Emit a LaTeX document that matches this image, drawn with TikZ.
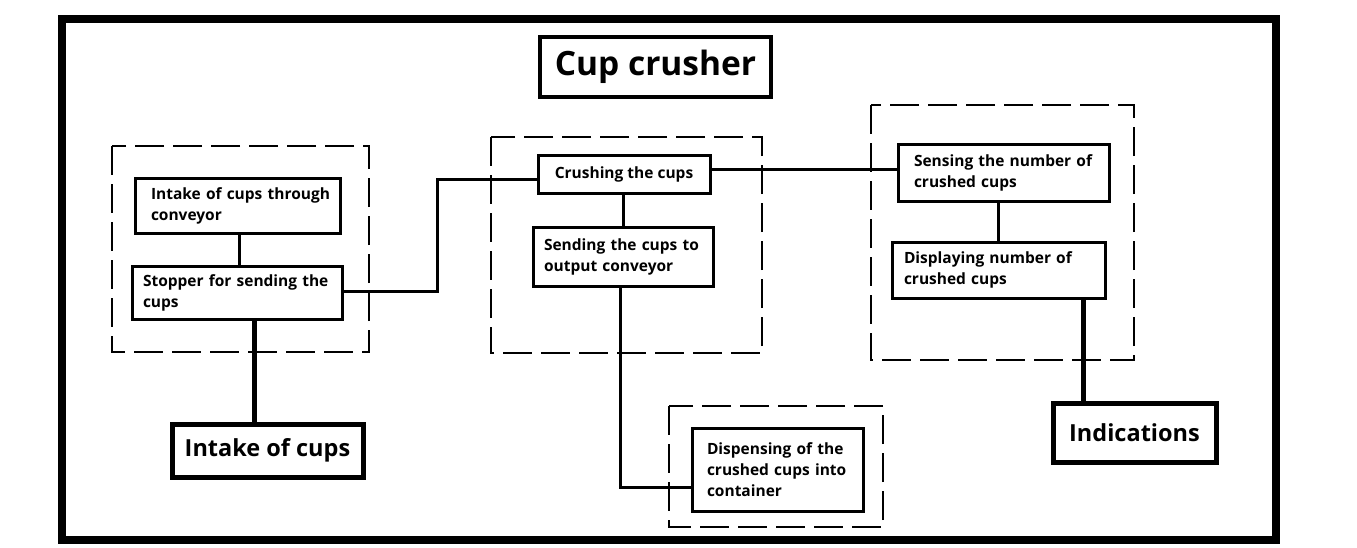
\documentclass[tikz,border=0pt]{standalone}
\usepackage{fontspec}
\setmainfont{Open Sans}
\begin{document}
\begin{tikzpicture}[x=1pt,y=-1pt,
  box/.style={draw, rectangle, line width=3pt, outer sep=0pt, anchor=north west,
    inner ysep=0pt, font=\fontsize{15.5}{21}\selectfont\bfseries},
  lbox/.style={box, align=left},
  bigbox/.style={box, line width=5pt, inner xsep=0pt, font=\fontsize{23.5}{28}\selectfont\bfseries},
  group/.style={draw, line width=1.2pt, dash pattern=on 29pt off 9pt},
  conn/.style={draw, line width=3pt},
  thick conn/.style={draw, line width=5pt}
]
\useasboundingbox (0,0) rectangle (1357,547);
% outer frame
\draw[line width=8pt] (61.5,19) rectangle (1276,540);

% groups
\draw[group] (112,146) rectangle (369,352);
\draw[group] (491,137) rectangle (762,353);
\draw[group] (871,105) rectangle (1134,360);
\draw[group] (669,406) rectangle (883,527);

% title
\node[box, line width=4pt, minimum width=231pt, minimum height=60pt, inner xsep=0pt,
  font=\fontsize{33.5}{38}\selectfont\bfseries] (title) at (540,37) {Cup crusher};

% left group
\node[lbox, inner xsep=16pt, text width=173pt, minimum height=55pt] (iconv) at (135,178)
  {\mbox{Intake of cups through}\\conveyor};
\node[lbox, inner xsep=11pt, text width=188pt, minimum height=53pt] (stop) at (132,266)
  {\mbox{Stopper for sending the}\\cups};
\node[bigbox, minimum width=191pt, minimum height=53pt] (intake) at (172,424) {Intake of cups};

% middle group
\node[box, inner xsep=0pt, minimum width=172pt, minimum height=38pt] (crush) at (538,155) {Crushing the cups};
\node[lbox, inner xsep=11pt, text width=158pt, minimum height=59pt] (send) at (533,227)
  {\mbox{Sending the cups to}\\\mbox{output conveyor}};

% right group
\node[lbox, inner xsep=16pt, text width=179pt, minimum height=57pt] (sense) at (898,144)
  {\mbox{Sensing the number of}\\\mbox{crushed cups}};
\node[lbox, inner xsep=12pt, text width=189pt, minimum height=56pt] (displ) at (892,242)
  {\mbox{Displaying number of}\\\mbox{crushed cups}};
\node[bigbox, minimum width=163pt, minimum height=59pt] (indic) at (1053,403) {Indications};

% bottom group
\node[lbox, inner xsep=15pt, text width=141pt, minimum height=83pt] (dispense) at (692,428)
  {\mbox{Dispensing of the}\\\mbox{crushed cups into}\\container};

% connectors
\draw[conn] (iconv.south -| 239,0) -- (stop.north -| 239,0);
\draw[thick conn] (stop.south -| 254,0) -- (intake.north -| 254,0);
\coordinate (j1) at (437,291);
\coordinate (j2) at (437,179);
\draw[conn] (stop.east |- j1) -- (j1) -- (j2) -- (crush.west |- j2);
\draw[conn] (crush.south -| 623,0) -- (send.north -| 623,0);
\coordinate (j3) at (620,487);
\draw[conn] (send.south -| j3) -- (j3) -- (dispense.west |- j3);
\coordinate (j4) at (800,169);
\draw[conn] (crush.east |- j4) -- (sense.west |- j4);
\draw[conn] (sense.south -| 998,0) -- (displ.north -| 998,0);
\draw[thick conn] (displ.south -| 1083,0) -- (indic.north -| 1083,0);
\end{tikzpicture}
\end{document}
